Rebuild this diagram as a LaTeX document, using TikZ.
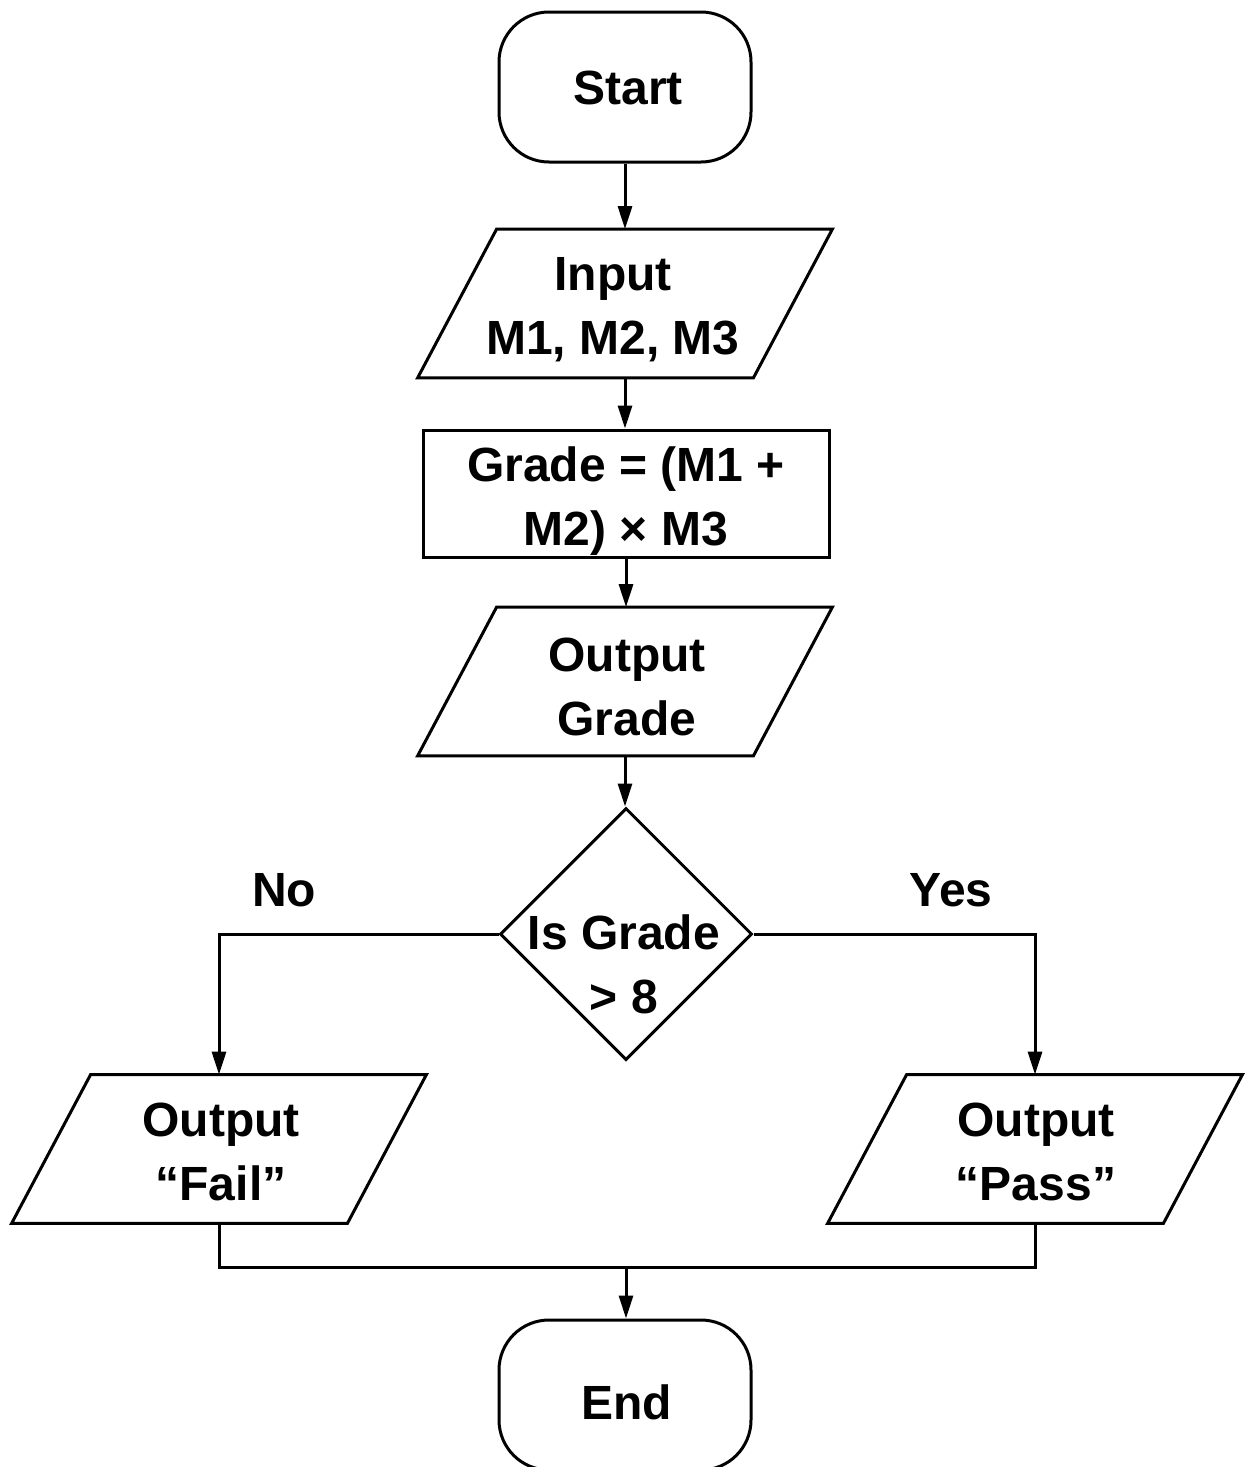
\documentclass[tikz,border=0pt]{standalone}
\usepackage{fontspec}
\setmainfont{Liberation Sans}
\usetikzlibrary{arrows.meta,shapes.geometric}
\newcommand\drawpara[1]{\draw[line width=1.5pt,line join=miter]
  ([xshift=39.5pt]#1.north west) -- (#1.north east)
  -- ([xshift=-39.5pt]#1.south east) -- (#1.south west) -- cycle;}
\begin{document}
\begin{tikzpicture}[x=0.5pt,y=-0.5pt,
  lw/.style={line width=1.5pt},
  arr/.style={lw,-{Triangle[length=11.5pt,width=7pt]}},
  term/.style={draw,lw,rectangle,rounded corners=25pt,minimum width=126pt,minimum height=75pt,inner sep=0pt},
  procbox/.style={draw,lw,rectangle,minimum width=203pt,minimum height=63.5pt,inner sep=0pt},
  decbox/.style={draw,lw,diamond,minimum width=126pt,minimum height=126pt,inner sep=0pt},
  para/.style={minimum width=207pt,minimum height=74pt,inner sep=0pt},
  txt/.style={align=center,inner sep=0pt,font=\fontsize{24pt}{32pt}\selectfont\bfseries}
]
\useasboundingbox (0,0) rectangle (1245,1467);
% shapes
\node[term] (start) at (625,87) {};
\node[para] (inp) at (625,303.5) {};
\node[procbox] (grade) at (626,493.5) {};
\node[para] (outg) at (625,681.5) {};
\node[decbox] (dec) at (626,934) {};
\node[para] (fail) at (219,1149) {};
\node[para] (pass) at (1035,1149) {};
\node[term] (end) at (625,1395) {};
\coordinate (m) at (626,1267);
\drawpara{inp}
\drawpara{outg}
\drawpara{fail}
\drawpara{pass}
% texts
\node[txt] (startT) at (628,88) {Start};
\node[txt] (inpT) at (613,310) {Input\\M1, M2, M3};
\node[txt] (gradeT) at (626,501) {Grade = (M1 +\\M2) × M3};
\node[txt] (outgT) at (627,687) {Output\\Grade};
\node[txt] (decT) at (624,964) {Is Grade\\> 8};
\node[txt] (failT) at (221,1152) {Output\\“Fail”};
\node[txt] (passT) at (1036,1152) {Output\\“Pass”};
\node[txt] (endT) at (626.5,1402) {End};
\node[txt] (no) at (284,890) {No};
\node[txt] (yes) at (951,890) {Yes};
% connectors
\draw[arr] (start.south) -- (inp.north);
\draw[arr] (inp.south) -- (inp.south |- grade.north);
\draw[arr] (grade.south) -- (grade.south |- outg.north);
\draw[arr] (outg.south) -- (outg.south |- dec.north);
\draw[arr] (dec.west) -| (fail.north);
\draw[arr] (dec.east) -| (pass.north);
\draw[lw] (fail.south) |- (m) -| (pass.south);
\draw[arr] (m) -- (m |- end.north);
\end{tikzpicture}
\end{document}
